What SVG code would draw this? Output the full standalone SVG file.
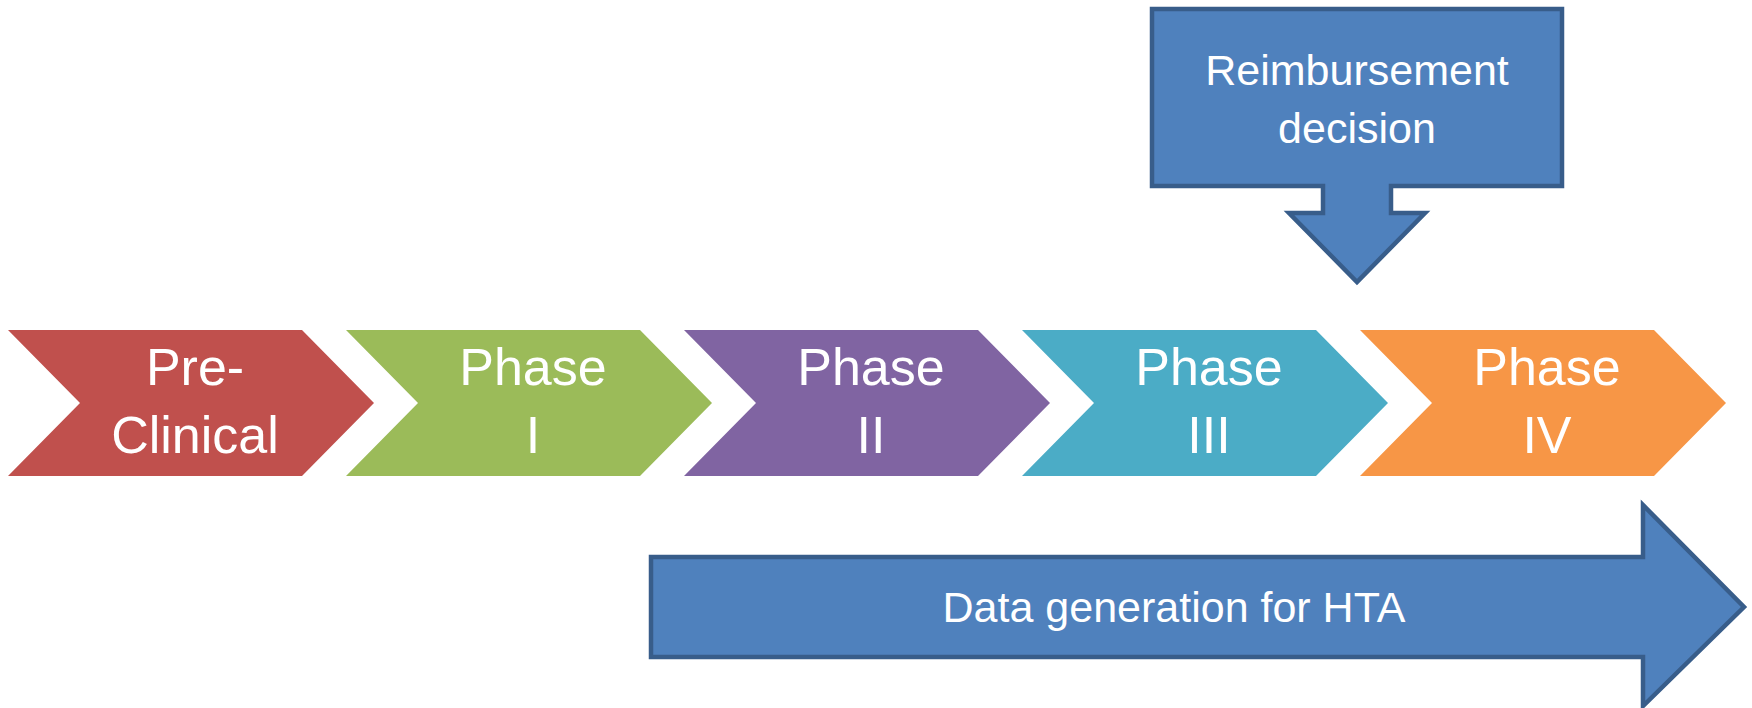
<svg xmlns="http://www.w3.org/2000/svg" width="1752" height="708" viewBox="0 0 1752 708">
<style>
.lbl{font-family:"Liberation Sans",Arial,sans-serif;fill:#ffffff;text-anchor:middle}
.ph{font-size:52px}
.bl{fill:#4F81BD;stroke:#385D8A;stroke-width:4.5;stroke-linejoin:miter}
</style>
<rect width="1752" height="708" fill="#ffffff"/>
<g id="preclinical">
<polygon points="8,330 302,330 374,403 302,476 8,476 80,403" fill="#C0504D"/>
<text class="lbl ph" x="195" y="385">Pre-</text>
<text class="lbl ph" x="195" y="453">Clinical</text>
</g>
<g id="phase1">
<polygon points="346,330 640,330 712,403 640,476 346,476 418,403" fill="#9BBB59"/>
<text class="lbl ph" x="533" y="385">Phase</text>
<text class="lbl ph" x="533" y="453">I</text>
</g>
<g id="phase2">
<polygon points="684,330 978,330 1050,403 978,476 684,476 756,403" fill="#8064A2"/>
<text class="lbl ph" x="871" y="385">Phase</text>
<text class="lbl ph" x="871" y="453">II</text>
</g>
<g id="phase3">
<polygon points="1022,330 1316,330 1388,403 1316,476 1022,476 1094,403" fill="#4BACC6"/>
<text class="lbl ph" x="1209" y="385">Phase</text>
<text class="lbl ph" x="1209" y="453">III</text>
</g>
<g id="phase4">
<polygon points="1360,330 1654,330 1726,403 1654,476 1360,476 1432,403" fill="#F79646"/>
<text class="lbl ph" x="1547" y="385">Phase</text>
<text class="lbl ph" x="1547" y="453">IV</text>
</g>
<g id="reimbursement">
<polygon class="bl" points="1152,9 1562,9 1562,186 1391,186 1391,213 1425,213 1357,282 1289,213 1323,213 1323,186 1152,186"/>
<text class="lbl" x="1357" y="85" font-size="43">Reimbursement</text>
<text class="lbl" x="1357" y="143" font-size="43">decision</text>
</g>
<g id="datagen">
<polygon class="bl" points="651,557 1643,557 1643,505 1744,607 1643,706 1643,657 651,657"/>
<text class="lbl" x="1174" y="622" font-size="43">Data generation for HTA</text>
</g>
<g id="connectors"></g>
</svg>
